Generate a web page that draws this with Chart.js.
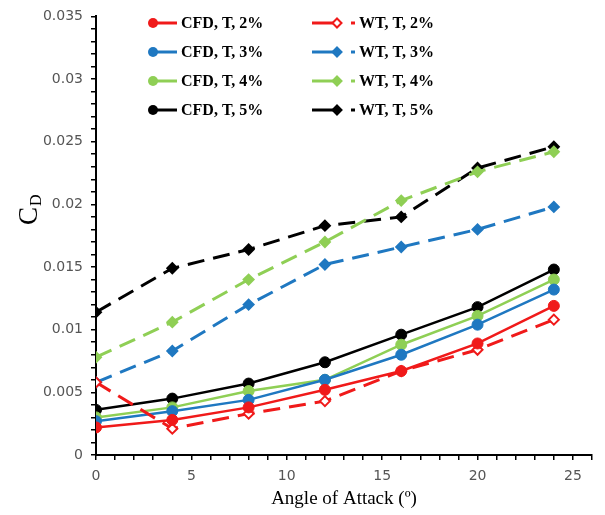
<!DOCTYPE html>
<html>
<head>
<meta charset="utf-8">
<script src="https://cdn.jsdelivr.net/npm/chart.js@4/dist/chart.umd.min.js"></script>
<style>
    html, body { margin: 0; padding: 0; background: #fff; }
    #wrap { width: 605px; height: 515px; }
</style>
</head>
<body>
<div id="wrap"><canvas id="chart-cd" width="605" height="515"></canvas></div>
<script>
// angle of attack, deg
const angles = [0, 4, 8, 12, 16, 20, 24];

// drag coefficient, CFD and wind tunnel
const cfd2 = [0.0022, 0.0028, 0.0038, 0.0052, 0.0067, 0.0089, 0.0119];
const wt2 = [0.0058, 0.0021, 0.0033, 0.0043, 0.0067, 0.0084, 0.0108];
const cfd3 = [0.0027, 0.0035, 0.0044, 0.0060, 0.0080, 0.0104, 0.0132];
const wt3 = [0.0058, 0.0083, 0.0120, 0.0152, 0.0166, 0.0180, 0.0198];
const cfd4 = [0.0030, 0.0038, 0.0051, 0.0060, 0.0088, 0.0111, 0.0140];
const wt4 = [0.0078, 0.0106, 0.0140, 0.0170, 0.0203, 0.0226, 0.0242];
const cfd5 = [0.0036, 0.0045, 0.0057, 0.0074, 0.0096, 0.0118, 0.0148];
const wt5 = [0.0114, 0.0149, 0.0164, 0.0183, 0.0190, 0.0229, 0.0246];

const seriesLabels = ['CFD, T, 2%', 'WT, T, 2%', 'CFD, T, 3%', 'WT, T, 3%',
    'CFD, T, 4%', 'WT, T, 4%', 'CFD, T, 5%', 'WT, T, 5%'];

const RED = '#f01a1a', BLUE = '#1f78c1', GREEN = '#8fcf55', BLACK = '#000000';

function toPoints(vals) {
    return vals.map((v, i) => ({ x: angles[i], y: v }));
}

function cfdSet(label, vals, color) {
    return {
        label, data: toPoints(vals),
        borderColor: color, backgroundColor: color,
        borderWidth: 2.5,
        pointStyle: 'circle', pointRadius: 5.5,
        pointBackgroundColor: color, pointBorderColor: color, pointBorderWidth: 1,
        tension: 0
    };
}

function wtSet(label, vals, color, fill) {
    return {
        label, data: toPoints(vals),
        borderColor: color, backgroundColor: color,
        borderWidth: 3, borderDash: [17, 9],
        pointStyle: 'rectRot', pointRadius: 5,
        pointBackgroundColor: fill, pointBorderColor: color, pointBorderWidth: 2,
        tension: 0
    };
}

const datasets = [
    cfdSet(seriesLabels[0], cfd2, RED),
    wtSet(seriesLabels[1], wt2, RED, '#ffffff'),
    cfdSet(seriesLabels[2], cfd3, BLUE),
    wtSet(seriesLabels[3], wt3, BLUE, BLUE),
    cfdSet(seriesLabels[4], cfd4, GREEN),
    wtSet(seriesLabels[5], wt4, GREEN, GREEN),
    cfdSet(seriesLabels[6], cfd5, BLACK),
    wtSet(seriesLabels[7], wt5, BLACK, BLACK)
];

// legend in two columns inside the plot, drawn by hand
const legendPlugin = {
    id: 'cdLegend',
    afterDraw(chart) {
        const ctx = chart.ctx;
        ctx.save();
        ctx.font = 'bold 16px "Liberation Serif", serif';
        ctx.textBaseline = 'middle';
        chart.data.datasets.forEach((ds, i) => {
            const col = i % 2;
            const row = Math.floor(i / 2);
            const y = 23 + row * 29;
            ctx.strokeStyle = ds.borderColor;
            ctx.fillStyle = ds.borderColor;
            ctx.setLineDash([]);
            if (col === 0) {
                ctx.lineWidth = 3;
                ctx.beginPath(); ctx.moveTo(151, y); ctx.lineTo(177, y); ctx.stroke();
                ctx.beginPath(); ctx.arc(153, y, 5, 0, Math.PI * 2); ctx.fill();
                ctx.fillStyle = '#000';
                ctx.fillText(ds.label, 181, y + 1);
            } else {
                ctx.lineWidth = 3;
                ctx.beginPath(); ctx.moveTo(312, y); ctx.lineTo(334, y); ctx.stroke();
                ctx.beginPath(); ctx.moveTo(351, y); ctx.lineTo(355, y); ctx.stroke();
                ctx.lineWidth = 2;
                ctx.beginPath();
                ctx.moveTo(337, y - 4.5); ctx.lineTo(341.5, y); ctx.lineTo(337, y + 4.5); ctx.lineTo(332.5, y);
                ctx.closePath();
                ctx.fillStyle = ds.pointBackgroundColor;
                ctx.fill(); ctx.stroke();
                ctx.fillStyle = '#000';
                ctx.fillText(ds.label, 359, y + 1);
            }
        });
        // y axis title C_D, rotated
        ctx.translate(37, 225);
        ctx.rotate(-Math.PI / 2);
        ctx.fillStyle = '#000';
        ctx.textBaseline = 'alphabetic';
        ctx.font = '27px "Liberation Serif", serif';
        ctx.fillText('C', 0, 0);
        const cw = ctx.measureText('C').width;
        ctx.font = '16px "Liberation Serif", serif';
        ctx.fillText('D', cw + 1, 4);
        ctx.restore();
    }
};

const tickFont = { family: '"DejaVu Sans", sans-serif', size: 14 };

new Chart(document.getElementById('chart-cd'), {
    type: 'line',
    data: { datasets },
    options: {
        responsive: false,
        animation: false,
        layout: { padding: { top: 14, right: 13, left: 0, bottom: 0 } },
        plugins: { legend: { display: false }, tooltip: { enabled: false } },
        scales: {
            x: {
                type: 'linear', min: 0, max: 26,
                border: { color: '#000', width: 2 },
                grid: { drawOnChartArea: false, color: '#000', lineWidth: 1.5, tickLength: 5 },
                ticks: {
                    stepSize: 1, autoSkip: false, maxRotation: 0, padding: 8,
                    color: '#555', font: tickFont,
                    callback: v => (Math.round(v) % 5 === 0 ? String(Math.round(v)) : '')
                },
                title: {
                    display: true, text: 'Angle of Attack (º)', color: '#000',
                    font: { family: '"Liberation Serif", serif', size: 19 },
                    padding: { top: 0, bottom: 5 }
                },
                afterFit: s => { s.height = 60; }
            },
            y: {
                type: 'linear', min: 0, max: 0.035,
                border: { color: '#000', width: 2 },
                grid: { drawOnChartArea: false, color: '#000', lineWidth: 1.5, tickLength: 5 },
                ticks: {
                    stepSize: 0.001, autoSkip: false, maxTicksLimit: 60, padding: 8,
                    color: '#555', font: tickFont,
                    callback: v => {
                        const m = Math.round(v * 1000);
                        return m % 5 === 0 ? String(m / 1000) : '';
                    }
                },
                afterFit: s => { s.width = 96; }
            }
        }
    },
    plugins: [legendPlugin]
});
</script>
</body>
</html>
